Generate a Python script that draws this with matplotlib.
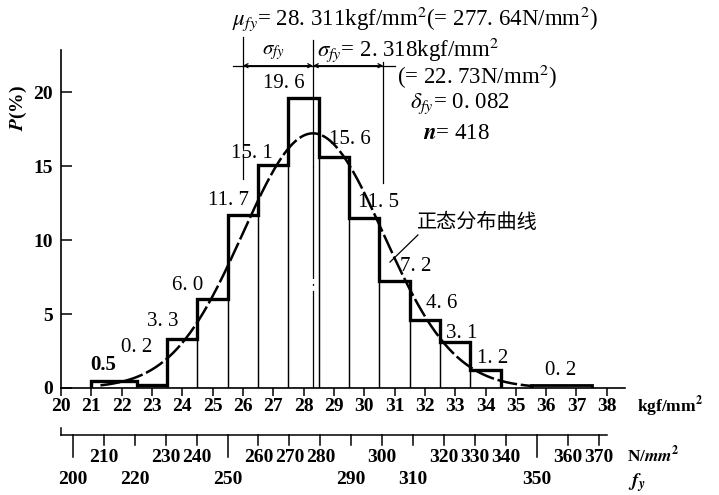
import numpy as np
import matplotlib
matplotlib.use('Agg')
import matplotlib.pyplot as plt

plt.rcParams['font.family'] = ['Liberation Serif', 'Noto Sans CJK SC']
plt.rcParams['mathtext.fontset'] = 'stix'

# histogram of f_y, kgf/mm2 bins
bin_edges = [21.0, 22.5, 23.5, 24.5, 25.5, 26.5, 27.5, 28.5, 29.5, 30.5, 31.5, 32.5, 33.5, 34.5]
freq = [0.5, 0.2, 3.3, 6.0, 11.7, 15.1, 19.6, 15.6, 11.5, 7.2, 4.6, 3.1, 1.2]
tail_edges = [35.5, 37.5]
tail_freq = [0.2]

mu_fy = 28.311
sigma_fy = 2.318
delta_fy = 0.082
n_samples = 418

kgf_ticks = list(range(20, 39))
y_ticks = [0, 5, 10, 15, 20]
n_row1 = [210, 230, 240, 260, 270, 280, 300, 320, 330, 340, 360, 370]
n_row2 = [200, 220, 250, 290, 310, 350]
n_long = [200, 250, 350]
KGF = 9.80665

# label positions (data coords) for the bar values
label_pos = [(21.38, 1.55), (22.51, 2.74), (23.35, 4.49), (24.19, 6.96), (25.52, 12.7),
             (26.31, 15.84), (27.34, 20.57), (29.53, 16.76), (30.47, 12.53), (31.70, 8.21),
             (32.55, 5.68), (33.20, 3.68), (34.23, 1.96)]
tail_label_pos = [(36.49, 1.15)]


def fmt(v):
    return f'{v:.1f}'.replace('.', '. ')


fig = plt.figure(figsize=(7.19, 4.95), dpi=100)
ax = fig.add_axes([61/719, 107/495, 564/719, 338/495])
ax.set_xlim(20, 38.6)
ax.set_ylim(0, 22.84)
ax.spines['top'].set_visible(False)
ax.spines['right'].set_visible(False)
ax.spines['left'].set_linewidth(1.2)
ax.spines['bottom'].set_linewidth(1.2)

ax.set_xticks(kgf_ticks)
ax.set_xticklabels([str(t) for t in kgf_ticks], fontweight='bold', fontsize=14)
ax.set_yticks(y_ticks)
ax.set_yticklabels([str(t) for t in y_ticks], fontweight='bold', fontsize=14)
ax.tick_params(axis='x', direction='out', length=6, width=1.1, pad=1)
ax.tick_params(axis='y', direction='in', length=8, width=1.1, pad=6)

# bars: thin bin lines + thick step outline
ax.bar(bin_edges[:-1], freq, width=np.diff(bin_edges), align='edge',
       fill=False, edgecolor='black', linewidth=0.9)
ax.bar(tail_edges[:-1], tail_freq, width=np.diff(tail_edges), align='edge',
       fill=False, edgecolor='black', linewidth=0.9)
ax.stairs(freq, bin_edges, baseline=0, color='black', lw=2.4)
ax.stairs(tail_freq, tail_edges, baseline=0, color='black', lw=2.0)

for (x, y), v in zip(label_pos, freq):
    if v == freq[0]:
        ax.text(x, y, f'{v:.1f}', ha='center', va='center', fontsize=15, fontweight='bold')
    else:
        ax.text(x, y, fmt(v), ha='center', va='center', fontsize=15)
for (x, y), v in zip(tail_label_pos, tail_freq):
    ax.text(x, y, fmt(v), ha='center', va='center', fontsize=15)

# normal curve from mu, sigma (bin width 1 kgf/mm2)
xs = np.linspace(21.3, 35.6, 300)
pdf = 100 / (sigma_fy * np.sqrt(2 * np.pi)) * np.exp(-0.5 * ((xs - mu_fy) / sigma_fy) ** 2)
ax.plot(xs, pdf, color='black', lw=1.8, linestyle=(0, (8, 1.5)))

# mean line and sigma dimension
ax.plot([mu_fy, mu_fy], [23.5, 15.0], color='black', lw=0.9, clip_on=False)
ax.plot([mu_fy, mu_fy], [15.0, 0], color='black', lw=0.9, linestyle=(0, (90, 4, 1.5, 4)))
ax.plot([mu_fy - sigma_fy] * 2, [23.7, 16.2], color='black', lw=0.9, clip_on=False)
ax.plot([mu_fy - sigma_fy] * 2, [15.8, 14.1], color='black', lw=0.9)
ax.plot([mu_fy + sigma_fy] * 2, [22.05, 13.85], color='black', lw=0.9)
dim_y = 21.78
ax.plot([mu_fy - sigma_fy - 0.33, mu_fy + sigma_fy + 0.4], [dim_y, dim_y], color='black', lw=0.9)
for a, b in [(mu_fy - sigma_fy, mu_fy), (mu_fy, mu_fy + sigma_fy)]:
    ax.annotate('', xy=(a, dim_y), xytext=(b, dim_y),
                arrowprops=dict(arrowstyle='<->', lw=0.9, color='black',
                                mutation_scale=7, shrinkA=0, shrinkB=0))

ann = 16.5
ax.text(25.64, 24.93, r'$\mu_{fy}$' + '= 28. 311kgf/mm$^2$(= 277. 64N/mm$^2$)',
        ha='left', va='center', fontsize=ann)
ax.text(27.0, 22.7, r'$\sigma_{fy}$', ha='center', va='center', fontsize=15)
ax.text(28.44, 22.84, r'$\sigma_{fy}$' + '= 2. 318kgf/mm$^2$', ha='left', va='center', fontsize=ann)
ax.text(31.07, 21.0, '(= 22. 73N/mm$^2$)', ha='left', va='center', fontsize=ann)
ax.text(31.51, 19.19, r'$\delta_{fy}$' + '= 0. 082', ha='left', va='center', fontsize=ann)
ax.text(31.94, 17.23, r'$\mathbfit{n}$' + f'= {n_samples}', ha='left', va='center', fontsize=ann)

ax.text(31.74, 11.15, '正态分布曲线', ha='left', va='center', fontsize=14.5,
        family=['Noto Sans CJK SC', 'DejaVu Sans'])
ax.plot([31.77, 30.85], [10.34, 8.51], color='black', lw=0.9)

# axis titles
ax.text(18.6, 18.9, r'$\mathbfit{P}$(%)', rotation=90, ha='center', va='center',
        fontsize=14, fontweight='bold', clip_on=False)
ax.text(38.99, -1.25, r'kgf/mm$^{\mathbf{2}}$', ha='left', va='center', fontsize=12.5,
        fontweight='bold', clip_on=False)

# second scale, N/mm2
ny = -3.18
ax.plot([20, 38], [ny, ny], color='black', lw=1.1, clip_on=False)
ax.plot([20, 20], [ny, ny + 0.5], color='black', lw=1.1, clip_on=False)
for v in n_row1 + n_row2:
    tl = 1.5 if v in n_long else 0.68
    ax.plot([v / KGF, v / KGF], [ny, ny - tl], color='black', lw=1.1, clip_on=False)
for v in n_row1:
    ax.text(v / KGF, -4.70, str(v), ha='center', va='center', fontsize=14,
            fontweight='bold', clip_on=False)
for v in n_row2:
    ax.text(v / KGF, -6.15, str(v), ha='center', va='center', fontsize=14,
            fontweight='bold', clip_on=False)
ax.text(38.66, -4.53, r'N/$\mathbfit{mm}^{\mathbf{2}}$', ha='left', va='center', fontsize=12.5,
        fontweight='bold', clip_on=False)
ax.text(38.7, -6.42, r'$\mathbfit{f}_{\mathbfit{y}}$', ha='left', va='center', fontsize=14,
        clip_on=False)

fig.savefig('out.png', dpi=100)
